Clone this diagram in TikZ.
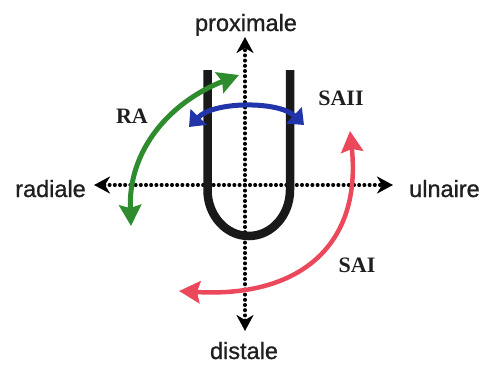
\documentclass[tikz,border=0pt]{standalone}
\usepackage{fontspec}
\setmainfont{Liberation Serif}
\newfontfamily\axisfont[FakeBold=0.9]{Liberation Sans}
\usetikzlibrary{arrows.meta}
\definecolor{rotgreen}{RGB}{46,140,46}
\definecolor{rotblue}{RGB}{34,52,170}
\definecolor{rotred}{RGB}{236,72,92}
\tikzset{
  axtip/.tip={Stealth[length=16pt,width=17pt,inset=5pt]},
  bigtip/.tip={Stealth[length=21pt,width=22pt,inset=3pt]},
  axisline/.style={line width=3.4pt, line cap=round, dash pattern=on 0.6pt off 4.6pt, axtip-axtip},
  axlabel/.style={font=\axisfont\fontsize{23.5}{28}\selectfont, inner sep=0pt, text=black!88},
  movelabel/.style={font=\bfseries\fontsize{22}{26}\selectfont, inner sep=0pt, text=black!88},
  ushape/.style={line width=8.5pt, black!90},
  greenarc/.style={rotgreen, line width=5pt, bigtip-bigtip},
  redarc/.style={rotred, line width=4.5pt, bigtip-bigtip},
  bluearc/.style={rotblue, line width=5pt,
    {Triangle[length=14pt,width=22pt]}-{Triangle[length=14pt,width=22pt]}}
}
\begin{document}
\begin{tikzpicture}[x=1pt,y=-1pt]
\useasboundingbox (0,0) rectangle (481,365);
% axes
\coordinate (O) at (245,185);
\coordinate (ax-top) at (245,37);
\coordinate (ax-bot) at (245,331);
\coordinate (ax-left) at (94,185);
\coordinate (ax-right) at (393,185);
\draw[axisline] (ax-bot) -- (ax-top);
\draw[axisline] (ax-left) -- (ax-right);
% U shape
\coordinate (u-l) at (207.5,70);
\coordinate (u-r) at (290,70);
\draw[ushape] (u-l) -- (207.5,190) arc[start angle=180, end angle=0, x radius=41.25, y radius=46] -- (u-r);
% blue arc
\coordinate (b1) at (189,127);
\coordinate (b2) at (304,125);
\draw[bluearc] (b1) .. controls (214,101) and (279,101) .. (b2);
% green arc
\coordinate (g1) at (239,75);
\coordinate (g2) at (131,226);
\draw[greenarc] (g1) .. controls (170,102) and (128,150) .. (g2);
% red arc
\coordinate (r1) at (350,131);
\coordinate (r2) at (179,291);
\draw[redarc] (r1) .. controls (362,245) and (300,298) .. (r2);
% labels
\node[axlabel, anchor=base] (prox) at (246,31) {proximale};
\node[axlabel, anchor=base] (dist) at (244,359) {distale};
\node[axlabel, anchor=base east] (rad) at (86,197) {radiale};
\node[axlabel, anchor=base west] (uln) at (409,197) {ulnaire};
\node[movelabel] (ra) at (132,116) {RA};
\node[movelabel] (saii) at (341,98) {SAII};
\node[movelabel] (sai) at (357,265) {SAI};
\end{tikzpicture}
\end{document}
